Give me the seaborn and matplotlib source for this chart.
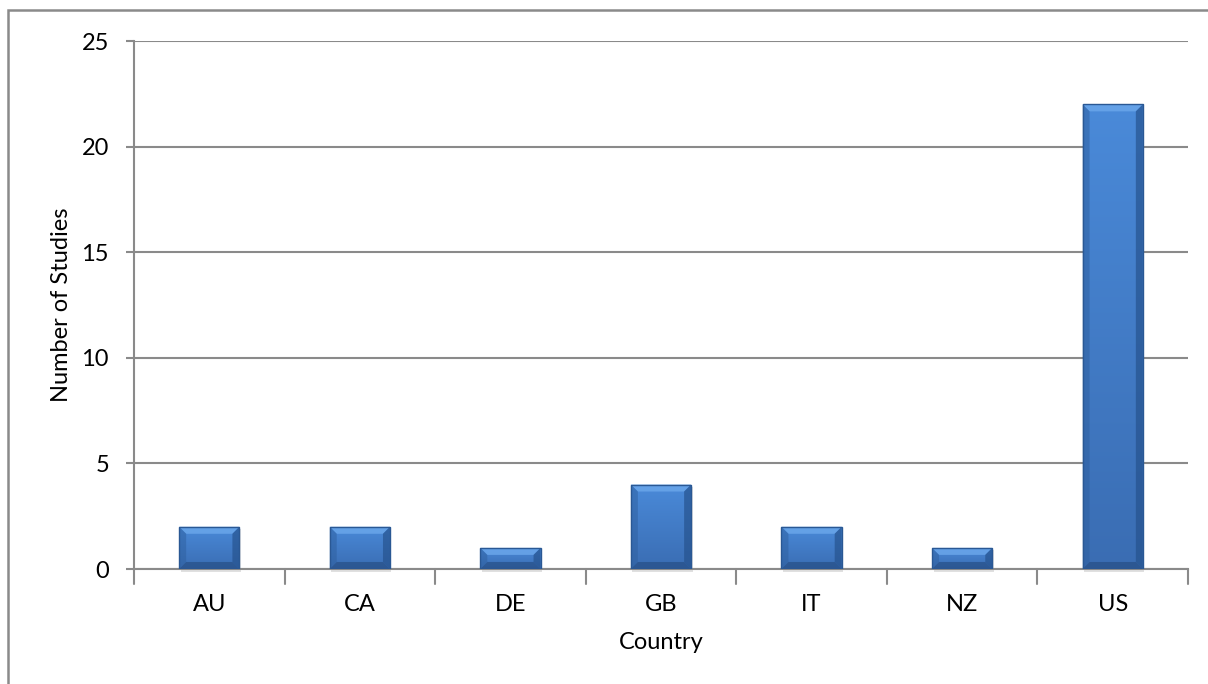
import numpy as np
import pandas as pd
import matplotlib
matplotlib.use("Agg")
import matplotlib.pyplot as plt
from matplotlib.patches import Polygon, Rectangle
from matplotlib.colors import LinearSegmentedColormap
import seaborn as sns

countries = ["AU", "CA", "DE", "GB", "IT", "NZ", "US"]
studies = [2, 2, 1, 4, 2, 1, 22]
y_ticks = [0, 5, 10, 15, 20, 25]

df = pd.DataFrame({"Country": countries, "Number of Studies": studies})

sns.set_theme(style="white")
plt.rcParams["font.family"] = ["Lato", "DejaVu Sans"]

W, H = 1208, 684
fig = plt.figure(figsize=(W / 100, H / 100), dpi=100)
ax = fig.add_axes([134 / W, 1 - 569 / H, (1188 - 134) / W, (569 - 41) / H])

grid_c = "#8a8a8a"
fs = 17
sns.barplot(data=df, x="Country", y="Number of Studies", ax=ax,
            color="#4281d0", width=0.4, saturation=1, edgecolor="none", zorder=3)

ax.set_ylim(0, 25)
ax.set_xlim(-0.5, len(countries) - 0.5)
ax.set_yticks(y_ticks)
ax.set_yticklabels([str(t) for t in y_ticks], fontsize=fs, color="black")
ax.set_xticks(np.arange(len(countries)))
ax.set_xticklabels(countries, fontsize=fs, color="black")
ax.tick_params(axis="x", length=0, pad=18)
ax.tick_params(axis="y", length=6, width=1.5, color=grid_c, direction="out", pad=12, left=True)

# category boundary ticks on the x axis
for b in np.arange(-0.5, len(countries), 1.0):
    ax.plot([b, b], [0, -0.028], transform=ax.get_xaxis_transform(),
            color=grid_c, lw=1.5, clip_on=False, zorder=1)

ax.yaxis.grid(True, color=grid_c, lw=1.5)
ax.xaxis.grid(False)
for s in ["top", "right"]:
    ax.spines[s].set_visible(False)
for s in ["left", "bottom"]:
    ax.spines[s].set_color(grid_c)
    ax.spines[s].set_linewidth(1.5)
ax.set_axisbelow(True)

ax.set_xlabel("Country", fontsize=fs, labelpad=12, color="black")
ax.set_ylabel("Number of Studies", fontsize=fs, labelpad=7, color="black")

# shaded, bevelled bars
cmap = LinearSegmentedColormap.from_list("barfill", ["#3a6db3", "#4a8ad9"])
ppx = 1.0 / 21.1  # data units per pixel vertically
bev_px = 7
for p in list(ax.patches):
    x0, y0 = p.get_x(), p.get_y()
    w, h = p.get_width(), p.get_height()
    bx = bev_px / 150.6
    by = min(bev_px * ppx, h / 2)
    # soft shadow under the bar
    ax.add_patch(Rectangle((x0 + 0.01, y0 - 0.12), w, h, facecolor="#000000",
                           alpha=0.12, edgecolor="none", zorder=2.5, clip_on=False))
    im = ax.imshow(np.linspace(0, 1, 256).reshape(-1, 1), cmap=cmap, aspect="auto",
                   extent=(x0, x0 + w, y0, y0 + h), origin="lower", zorder=3.1,
                   interpolation="bilinear")
    im.set_clip_path(p)
    top = [(x0, y0 + h), (x0 + w, y0 + h), (x0 + w - bx, y0 + h - by), (x0 + bx, y0 + h - by)]
    left = [(x0, y0), (x0, y0 + h), (x0 + bx, y0 + h - by), (x0 + bx, y0 + by)]
    right = [(x0 + w, y0), (x0 + w, y0 + h), (x0 + w - bx, y0 + h - by), (x0 + w - bx, y0 + by)]
    bottom = [(x0, y0), (x0 + w, y0), (x0 + w - bx, y0 + by), (x0 + bx, y0 + by)]
    ax.add_patch(Polygon(top, closed=True, facecolor="#6aa6ea", alpha=0.85, edgecolor="none", zorder=3.2))
    ax.add_patch(Polygon(left, closed=True, facecolor="#2e5f9e", alpha=0.5, edgecolor="none", zorder=3.2))
    ax.add_patch(Polygon(right, closed=True, facecolor="#24508a", alpha=0.65, edgecolor="none", zorder=3.2))
    ax.add_patch(Polygon(bottom, closed=True, facecolor="#23497d", alpha=0.6, edgecolor="none", zorder=3.2))
    ax.add_patch(Rectangle((x0, y0), w, h, facecolor="none", edgecolor="#2a5894",
                           lw=1.0, zorder=3.3))

ax.set_xlim(-0.5, len(countries) - 0.5)
ax.set_ylim(0, 25)

# outer chart frame
fig.patches.append(Rectangle((8 / W, -0.05), 1.2, 1 - 10 / H + 0.05, transform=fig.transFigure,
                             facecolor="none", edgecolor="#8a8a8a", lw=1.8, zorder=0))

fig.savefig("out.png", dpi=100)
